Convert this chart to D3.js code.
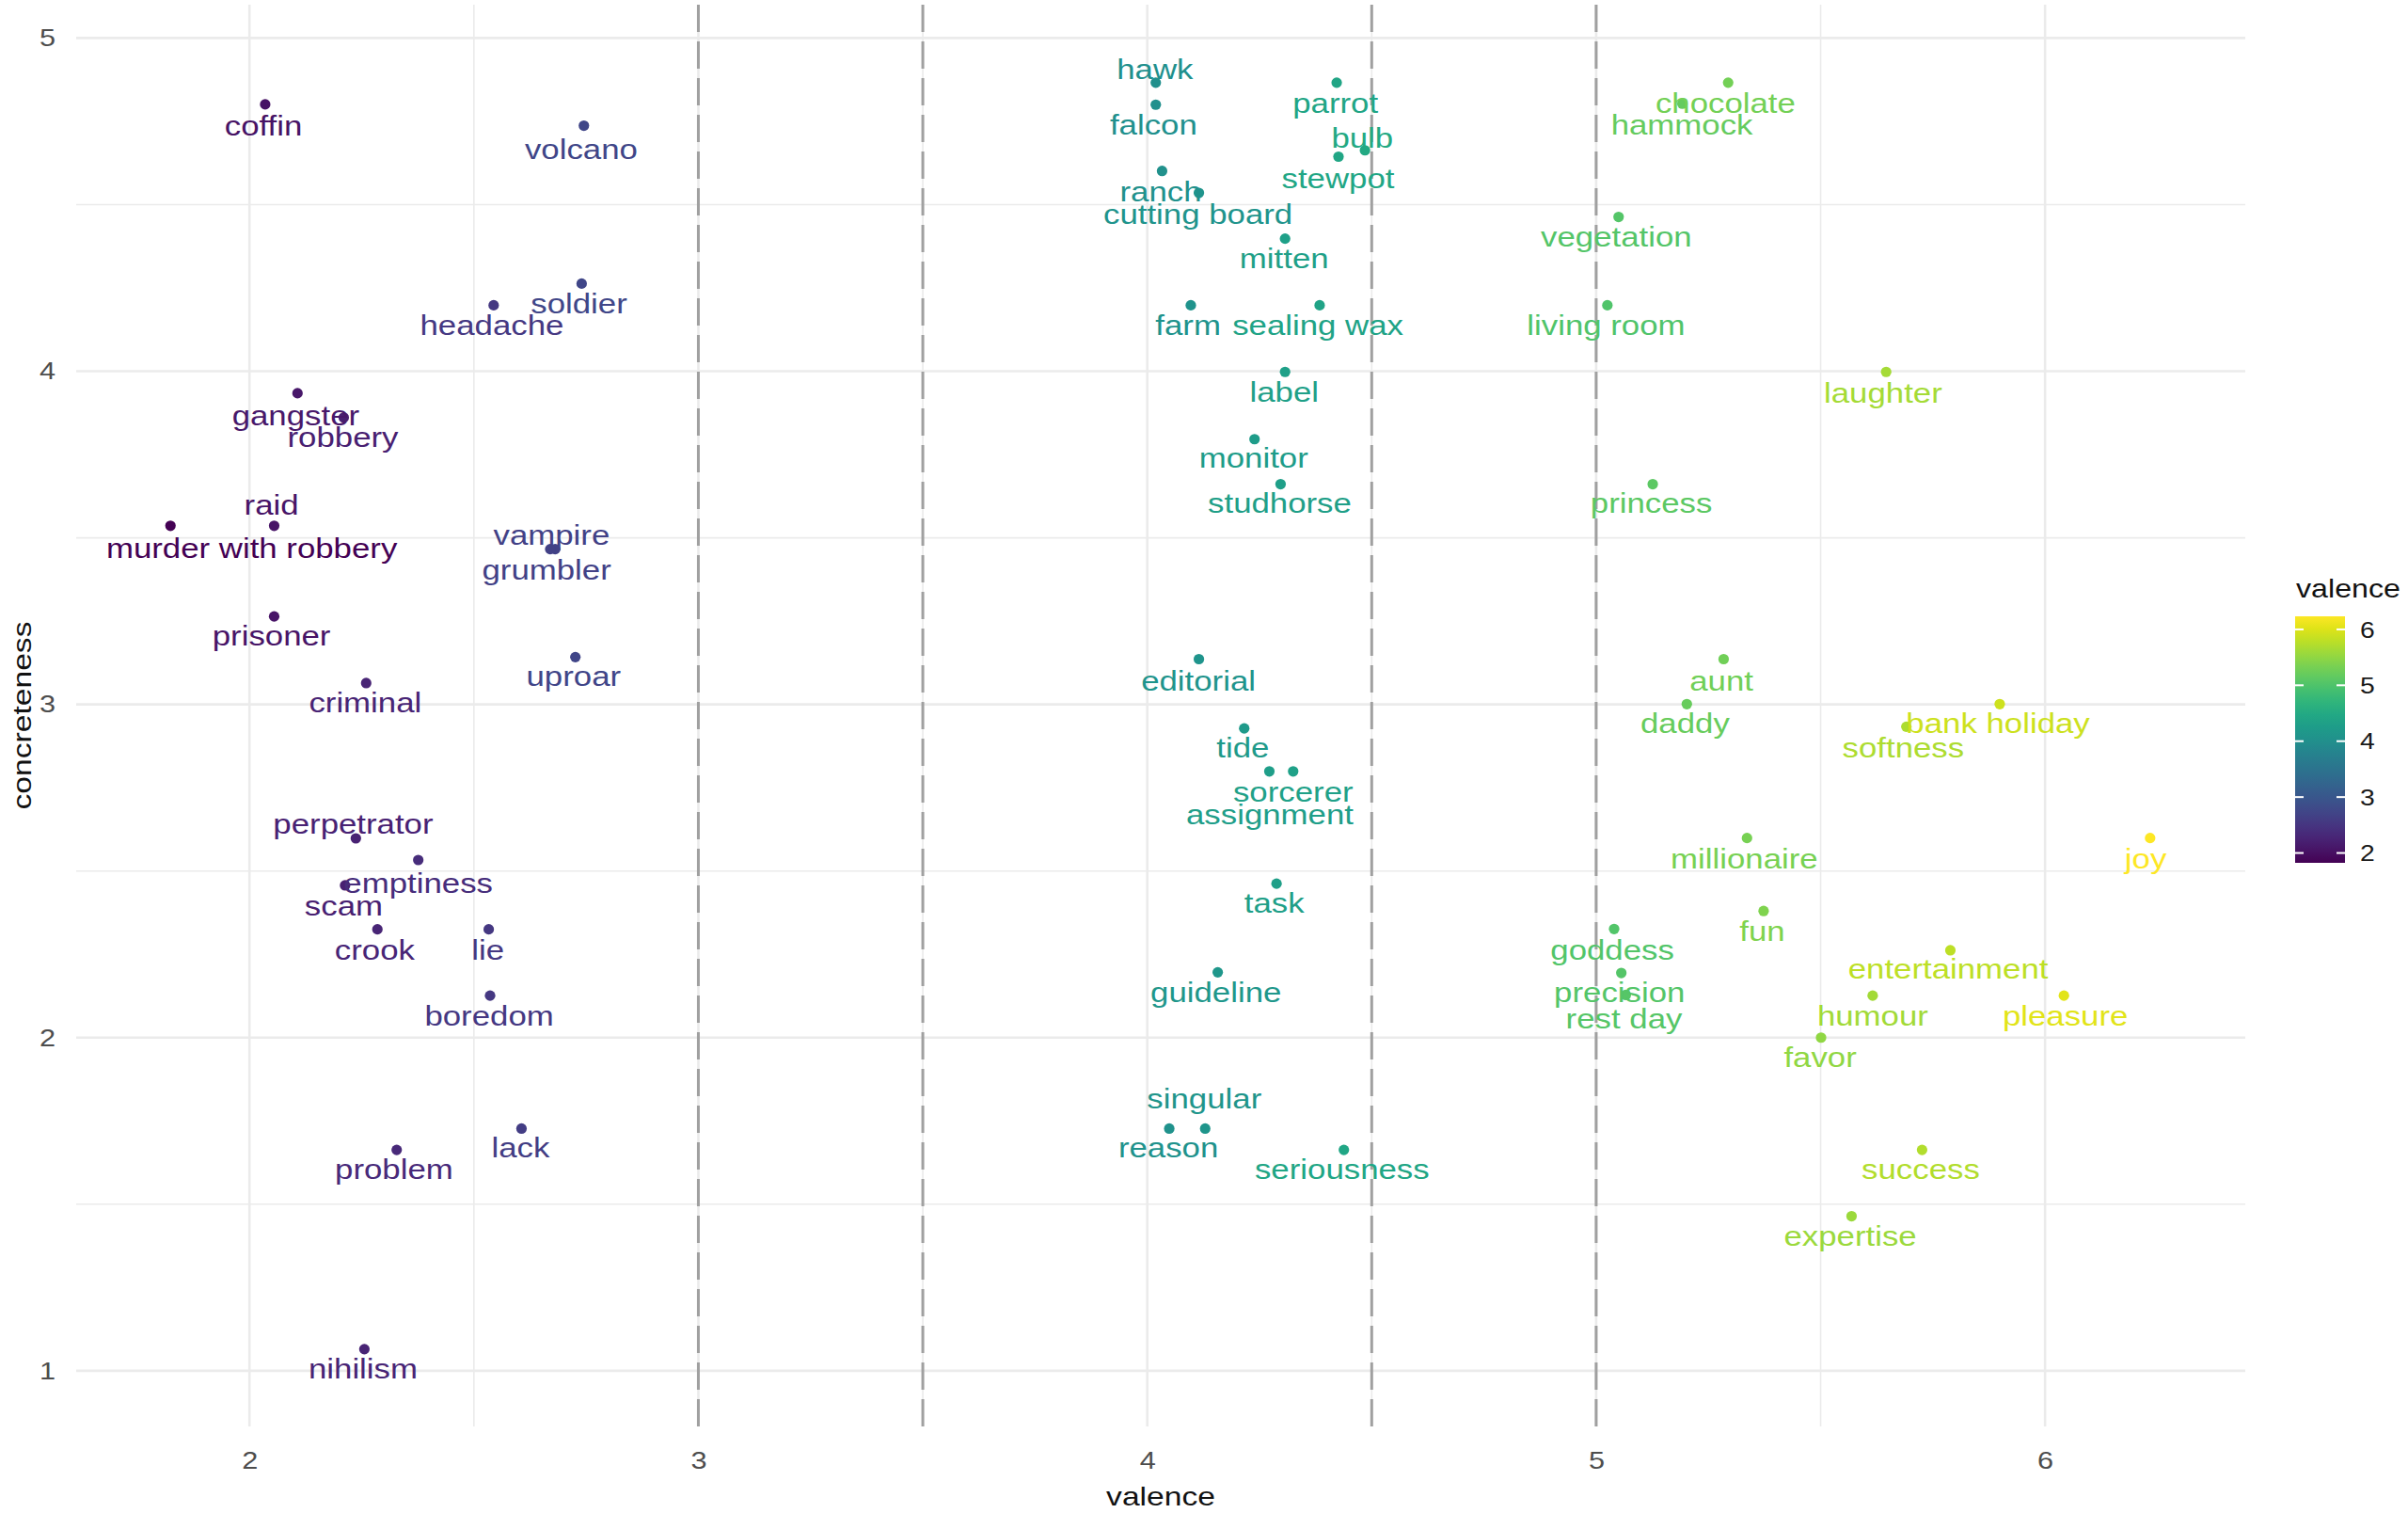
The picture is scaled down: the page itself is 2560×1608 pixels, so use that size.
<!DOCTYPE html>
<html>
<head>
<meta charset="utf-8">
<script src="https://cdn.jsdelivr.net/npm/d3@7"></script>
<style>
  html, body { margin: 0; padding: 0; background: #ffffff; }
  svg { display: block; }
  text { font-family: "Liberation Sans", Arial, sans-serif; }
</style>
</head>
<body>
<svg id="chart" width="2560" height="1608"></svg>
<script>
// ---------------- data ----------------
const words = ["coffin","volcano","soldier","headache","gangster","robbery","raid","murder with robbery","vampire","grumbler","prisoner","uproar","criminal","perpetrator","emptiness","scam","crook","lie","boredom","problem","lack","nihilism",
  "hawk","falcon","parrot","bulb","stewpot","ranch","cutting board","mitten","farm","sealing wax","label","monitor","studhorse","editorial","tide","sorcerer","assignment","task","guideline","singular","reason","seriousness",
  "chocolate","hammock","vegetation","living room","laughter","princess","aunt","daddy","bank holiday","softness","millionaire","joy","fun","goddess","precision","rest day","entertainment","humour","pleasure","favor","success","expertise"];

const valence = [2.035,2.745,2.740,2.544,2.107,2.210,2.055,1.824,2.681,2.670,2.055,2.726,2.260,2.237,2.376,2.213,2.285,2.533,2.536,2.328,2.606,2.256,
  4.019,4.019,4.422,4.485,4.426,4.033,4.115,4.307,4.097,4.384,4.307,4.239,4.297,4.115,4.216,4.325,4.272,4.288,4.157,4.129,4.049,4.438,
  5.294,5.192,5.050,5.025,5.646,5.126,5.284,5.202,5.899,5.691,5.336,6.234,5.373,5.040,5.056,5.066,5.789,5.616,6.042,5.501,5.726,5.569];

const concreteness = [4.801,4.737,4.263,4.198,3.934,3.861,3.536,3.536,3.466,3.466,3.264,3.142,3.064,2.598,2.533,2.457,2.325,2.325,2.126,1.663,1.727,1.065,
  4.866,4.800,4.866,4.663,4.644,4.601,4.535,4.398,4.198,4.198,3.998,3.796,3.661,3.136,2.928,2.799,2.799,2.462,2.196,1.727,1.727,1.663,
  4.866,4.803,4.463,4.198,3.998,3.661,3.136,3.001,3.001,2.933,2.599,2.599,2.380,2.326,2.194,2.128,2.262,2.126,2.126,2.000,1.663,1.464];

// label anchor (text centre / baseline) in data units, as placed in the reference
const labelValence = [2.031,2.739,2.734,2.540,2.103,2.208,2.049,2.005,2.673,2.662,2.049,2.722,2.258,2.231,2.376,2.210,2.279,2.531,2.534,2.322,2.604,2.253,
  4.017,4.014,4.419,4.479,4.425,4.030,4.113,4.305,4.091,4.380,4.305,4.237,4.295,4.114,4.213,4.325,4.273,4.283,4.153,4.127,4.047,4.434,
  5.288,5.191,5.045,5.022,5.639,5.123,5.279,5.198,5.895,5.684,5.330,6.224,5.370,5.036,5.052,5.062,5.784,5.616,6.045,5.499,5.723,5.566];

const labelConcreteness = [4.707,4.637,4.174,4.110,3.837,3.774,3.570,3.440,3.479,3.375,3.177,3.055,2.977,2.611,2.435,2.367,2.235,2.235,2.036,1.575,1.642,0.976,
  4.876,4.710,4.774,4.671,4.549,4.510,4.442,4.310,4.110,4.110,3.907,3.710,3.575,3.040,2.840,2.708,2.640,2.374,2.108,1.787,1.642,1.575,
  4.774,4.710,4.374,4.110,3.905,3.575,3.040,2.913,2.913,2.842,2.508,2.508,2.289,2.235,2.108,2.027,2.177,2.037,2.037,1.913,1.575,1.375];

const xTicks = [2, 3, 4, 5, 6];
const xMinor = [2.5, 3.5, 4.5, 5.5];
const yTicks = [1, 2, 3, 4, 5];
const yMinor = [1.5, 2.5, 3.5, 4.5];
const dashedValence = [3, 3.5, 4.5, 5];
const legendTicks = [2, 3, 4, 5, 6];
const xLimits = [1.614, 6.446];
const yLimits = [0.833, 5.10];

// ---------------- layout ----------------
const panel = { left: 81, right: 2387, top: 5, bottom: 1516 };
const STRETCH = 1.18;   // glyphs in the reference are wider than Arial
const svg = d3.select("#chart");

const x = d3.scaleLinear().domain(xLimits).range([panel.left, panel.right]);
const y = d3.scaleLinear().domain(yLimits).range([panel.bottom, panel.top]);
const vExtent = d3.extent(valence);
const color = d3.scaleSequential(d3.interpolateViridis).domain(vExtent);

// grid
const grid = svg.append("g");
grid.selectAll(".xmin").data(xMinor).join("line")
  .attr("x1", d => x(d)).attr("x2", d => x(d)).attr("y1", panel.top).attr("y2", panel.bottom)
  .attr("stroke", "#EBEBEB").attr("stroke-width", 1.6);
grid.selectAll(".ymin").data(yMinor).join("line")
  .attr("y1", d => y(d)).attr("y2", d => y(d)).attr("x1", panel.left).attr("x2", panel.right)
  .attr("stroke", "#EBEBEB").attr("stroke-width", 1.6);
grid.selectAll(".xmaj").data(xTicks).join("line")
  .attr("x1", d => x(d)).attr("x2", d => x(d)).attr("y1", panel.top).attr("y2", panel.bottom)
  .attr("stroke", "#EBEBEB").attr("stroke-width", 2.6);
grid.selectAll(".ymaj").data(yTicks).join("line")
  .attr("y1", d => y(d)).attr("y2", d => y(d)).attr("x1", panel.left).attr("x2", panel.right)
  .attr("stroke", "#EBEBEB").attr("stroke-width", 2.6);

// dashed reference lines
svg.append("g").selectAll("line").data(dashedValence).join("line")
  .attr("x1", d => x(d)).attr("x2", d => x(d)).attr("y1", panel.top).attr("y2", panel.bottom)
  .attr("stroke", "#A0A0A0").attr("stroke-width", 3).attr("stroke-dasharray", "29 10");

// axes
const xAxis = svg.append("g").attr("transform", `translate(0,${panel.bottom})`)
  .call(d3.axisBottom(x).tickValues(xTicks).tickSize(0).tickPadding(26.5).tickFormat(d3.format("d")));
xAxis.select(".domain").remove();
xAxis.selectAll("text").attr("font-size", 26).attr("fill", "#4D4D4D")
  .attr("font-family", "Liberation Sans, Arial, sans-serif")
  .attr("transform", `scale(${STRETCH},1)`)
  .attr("x", 0);

const yAxis = svg.append("g").attr("transform", `translate(${panel.left},0)`)
  .call(d3.axisLeft(y).tickValues(yTicks).tickSize(0).tickPadding(22).tickFormat(d3.format("d")));
yAxis.select(".domain").remove();
yAxis.selectAll("text").attr("font-size", 26).attr("fill", "#4D4D4D")
  .attr("font-family", "Liberation Sans, Arial, sans-serif")
  .attr("x", -22 / STRETCH)
  .attr("transform", `scale(${STRETCH},1)`);

// axis titles
svg.append("text")
  .attr("transform", `translate(${(panel.left + panel.right) / 2},1600) scale(${STRETCH},1)`)
  .attr("text-anchor", "middle").attr("font-size", 28.5).attr("fill", "#111")
  .text("valence");
svg.append("text")
  .attr("transform", `translate(33,${(panel.top + panel.bottom) / 2}) rotate(-90) scale(${STRETCH},1)`)
  .attr("text-anchor", "middle").attr("font-size", 28.5).attr("fill", "#111")
  .text("concreteness");

// points
const idx = d3.range(words.length);
svg.append("g").selectAll("circle").data(idx).join("circle")
  .attr("cx", i => x(valence[i])).attr("cy", i => y(concreteness[i]))
  .attr("r", 5.6).attr("fill", i => color(valence[i]));

// labels
svg.append("g").selectAll("text").data(idx).join("text")
  .attr("transform", i => `translate(${x(labelValence[i])},${y(labelConcreteness[i])}) scale(${STRETCH},1)`)
  .attr("text-anchor", "middle").attr("font-size", 29.5)
  .attr("fill", i => color(valence[i]))
  .text(i => words[i]);

// legend (colour bar)
const lg = { x: 2440, w: 53, top: 655, bottom: 917 };
const defs = svg.append("defs");
const grad = defs.append("linearGradient").attr("id", "vir")
  .attr("x1", 0).attr("y1", 1).attr("x2", 0).attr("y2", 0);
d3.range(0, 1.0001, 0.05).forEach(t => {
  grad.append("stop").attr("offset", t).attr("stop-color", d3.interpolateViridis(t));
});
const ly = d3.scaleLinear().domain(vExtent).range([lg.bottom, lg.top]);
svg.append("rect").attr("x", lg.x).attr("y", ly(vExtent[1])).attr("width", lg.w)
  .attr("height", ly(vExtent[0]) - ly(vExtent[1])).attr("fill", "url(#vir)");
const lt = svg.append("g");
lt.selectAll(".tl").data(legendTicks).join("line")
  .attr("x1", lg.x).attr("x2", lg.x + 9).attr("y1", d => ly(d)).attr("y2", d => ly(d))
  .attr("stroke", "#ffffff").attr("stroke-width", 2);
lt.selectAll(".tr").data(legendTicks).join("line")
  .attr("x1", lg.x + lg.w - 9).attr("x2", lg.x + lg.w).attr("y1", d => ly(d)).attr("y2", d => ly(d))
  .attr("stroke", "#ffffff").attr("stroke-width", 2);
lt.selectAll("text").data(legendTicks).join("text")
  .attr("transform", d => `translate(2509,${ly(d)}) scale(${STRETCH},1)`)
  .attr("dy", "0.36em").attr("font-size", 24).attr("fill", "#1a1a1a")
  .text(d => d);
svg.append("text")
  .attr("transform", `translate(2441,635) scale(1.13,1)`)
  .attr("font-size", 28.5).attr("fill", "#111")
  .text("valence");
</script>
</body>
</html>
